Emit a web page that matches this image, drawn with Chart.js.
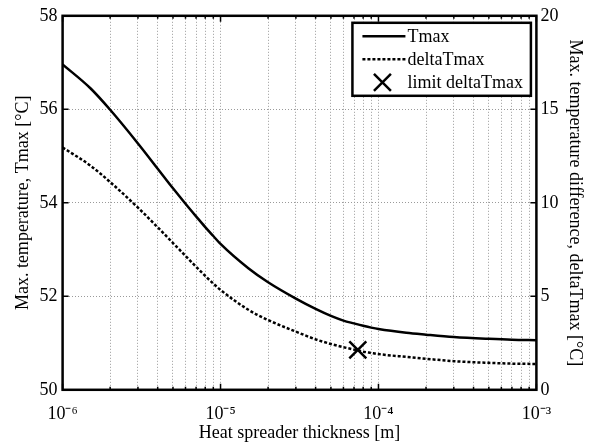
<!DOCTYPE html>
<html lang="en">
<head>
  <meta charset="UTF-8">
  <title>Heat spreader thickness</title>
  <script src="https://cdn.jsdelivr.net/npm/chart.js"></script>
  <style>
    body { margin: 0; background: #fff; }
    .chart-box { width: 589px; height: 447px; }
  </style>
</head>
<body>

<div class="chart-box">
  <canvas id="lineChart" width="589" height="447"></canvas>
</div>

<script>
  // heat spreader thickness [m]
  const thickness = [1e-6, 1.5e-6, 2e-6, 3e-6, 4e-6, 5e-6, 6e-6, 7e-6, 8e-6, 9e-6,
    1e-5, 1.5e-5, 2e-5, 3e-5, 4e-5, 5e-5, 6e-5, 7e-5, 8e-5, 9e-5, 1e-4,
    1.5e-4, 2e-4, 3e-4, 5e-4, 7e-4, 1e-3];
  // max. temperature [°C], left axis
  const tmax = [56.96, 56.45, 55.99, 55.27, 54.73, 54.31, 53.98, 53.71, 53.48, 53.29,
    53.12, 52.6, 52.3, 51.95, 51.73, 51.58, 51.48, 51.42, 51.37, 51.33, 51.30,
    51.22, 51.18, 51.13, 51.09, 51.07, 51.06];
  // max. temperature difference [°C], right axis
  const deltaTmax = [12.96, 11.99, 11.11, 9.74, 8.69, 7.85, 7.16, 6.58, 6.09, 5.68,
    5.34, 4.28, 3.73, 3.11, 2.70, 2.45, 2.28, 2.15, 2.04, 1.97, 1.91,
    1.76, 1.66, 1.53, 1.44, 1.40, 1.38];
  const limitThickness = [7.4e-5];
  const limitDelta = [2.13];

  const xDecades = [1e-6, 1e-5, 1e-4, 1e-3];
  const xDecadeLabels = ['10⁻⁶', '10⁻⁵', '10⁻⁴', '10⁻³'];
  const xMinorSteps = [2, 3, 4, 5, 6, 7, 8, 9];
  const leftTicks = [50, 52, 54, 56, 58];
  const rightTicks = [0, 5, 10, 15, 20];

  // grid positions: every 1..9 x 10^k between the decades
  const xGrid = [];
  xDecades.forEach((d, i) => {
    xGrid.push(d);
    if (i < xDecades.length - 1) xMinorSteps.forEach(m => xGrid.push(m * d));
  });

  const serif = "'Liberation Serif', 'Times New Roman', serif";
  Chart.defaults.font.family = serif;
  Chart.defaults.font.size = 18;
  Chart.defaults.color = '#000';

  const gridColor = '#9a9a9a';

  // frame, inward ticks and boxed legend like the original figure
  const framePlugin = {
    id: 'framePlugin',
    afterDraw(chart) {
      const { ctx, chartArea: a, scales } = chart;
      ctx.save();
      ctx.strokeStyle = '#000';
      ctx.lineWidth = 1.5;
      ctx.beginPath();
      xGrid.forEach(v => {
        const px = scales.x.getPixelForValue(v);
        const len = xDecades.includes(v) ? 6 : 3;
        ctx.moveTo(px, a.bottom); ctx.lineTo(px, a.bottom - len);
        ctx.moveTo(px, a.top); ctx.lineTo(px, a.top + len);
      });
      leftTicks.forEach(v => {
        const py = scales.y.getPixelForValue(v);
        ctx.moveTo(a.left, py); ctx.lineTo(a.left + 6, py);
      });
      rightTicks.forEach(v => {
        const py = scales.y1.getPixelForValue(v);
        ctx.moveTo(a.right, py); ctx.lineTo(a.right - 6, py);
      });
      ctx.stroke();

      ctx.lineWidth = 2.5;
      ctx.strokeRect(a.left, a.top, a.right - a.left, a.bottom - a.top);

      // legend
      const sets = chart.data.datasets;
      ctx.font = '18px ' + serif;
      const textW = Math.max(...sets.map(s => ctx.measureText(s.label).width));
      const boxW = 55 + textW + 8;
      const boxH = 73;
      const bx = a.right - 5.5 - boxW;
      const by = a.top + 7;
      ctx.fillStyle = '#fff';
      ctx.fillRect(bx, by, boxW, boxH);
      ctx.lineWidth = 2.5;
      ctx.strokeRect(bx, by, boxW, boxH);
      ctx.textBaseline = 'middle';
      sets.forEach((s, i) => {
        const cy = by + 13.5 + i * 23;
        ctx.strokeStyle = '#000';
        if (s.showLine) {
          ctx.lineWidth = s.borderWidth;
          ctx.setLineDash(s.borderDash || []);
          ctx.beginPath();
          ctx.moveTo(bx + 10, cy);
          ctx.lineTo(bx + 53, cy);
          ctx.stroke();
          ctx.setLineDash([]);
        } else {
          Chart.helpers.drawPoint(ctx, {
            pointStyle: s.pointStyle, radius: s.pointRadius, borderWidth: s.borderWidth
          }, bx + 30, cy);
        }
        ctx.fillStyle = '#000';
        ctx.fillText(s.label, bx + 55, cy + 1);
      });
      ctx.restore();
    }
  };

  const lineChartCtx = document.getElementById('lineChart').getContext('2d');
  new Chart(lineChartCtx, {
    type: 'scatter',
    data: {
      datasets: [{
        label: 'Tmax',
        data: thickness.map((x, i) => ({ x: x, y: tmax[i] })),
        yAxisID: 'y',
        showLine: true,
        borderColor: '#000',
        borderWidth: 2.5,
        pointRadius: 0,
        cubicInterpolationMode: 'monotone'
      }, {
        label: 'deltaTmax',
        data: thickness.map((x, i) => ({ x: x, y: deltaTmax[i] })),
        yAxisID: 'y1',
        showLine: true,
        borderColor: '#000',
        borderWidth: 2.5,
        borderDash: [3, 2],
        pointRadius: 0,
        cubicInterpolationMode: 'monotone'
      }, {
        label: 'limit deltaTmax',
        data: limitThickness.map((x, i) => ({ x: x, y: limitDelta[i] })),
        yAxisID: 'y1',
        showLine: false,
        pointStyle: 'crossRot',
        pointRadius: 12,
        borderWidth: 2.5,
        borderColor: '#000',
        backgroundColor: '#000'
      }]
    },
    options: {
      responsive: false,
      devicePixelRatio: 1,
      animation: false,
      layout: { padding: { left: 9, right: 1, top: 5, bottom: -2 } },
      plugins: {
        legend: { display: false },
        tooltip: { enabled: false }
      },
      scales: {
        x: {
          type: 'logarithmic',
          min: 1e-6,
          max: 1e-3,
          afterBuildTicks: scale => { scale.ticks = xGrid.map(v => ({ value: v })); },
          ticks: {
            autoSkip: false,
            maxRotation: 0,
            padding: 14,
            callback: value => {
              const k = xDecades.indexOf(value);
              return k >= 0 ? xDecadeLabels[k] : '';
            }
          },
          grid: { color: gridColor, lineWidth: 1, drawTicks: false },
          border: { display: false, dash: [1, 2] },
          title: { display: true, text: 'Heat spreader thickness [m]', padding: { top: -17, bottom: 5 } }
        },
        y: {
          position: 'left',
          min: 50,
          max: 58,
          afterBuildTicks: scale => { scale.ticks = leftTicks.map(v => ({ value: v })); },
          ticks: { padding: 5 },
          grid: { color: gridColor, lineWidth: 1, drawTicks: false },
          border: { display: false, dash: [1, 2] },
          title: { display: true, text: 'Max. temperature, Tmax [°C]', padding: { top: 3, bottom: 1 } }
        },
        y1: {
          position: 'right',
          min: 0,
          max: 20,
          afterBuildTicks: scale => { scale.ticks = rightTicks.map(v => ({ value: v })); },
          ticks: { padding: 4 },
          grid: { drawOnChartArea: false, drawTicks: false },
          border: { display: false },
          title: { display: true, text: 'Max. temperature difference, deltaTmax [°C]', padding: { top: 2, bottom: 2 } }
        }
      }
    },
    plugins: [framePlugin]
  });
</script>

</body>
</html>
